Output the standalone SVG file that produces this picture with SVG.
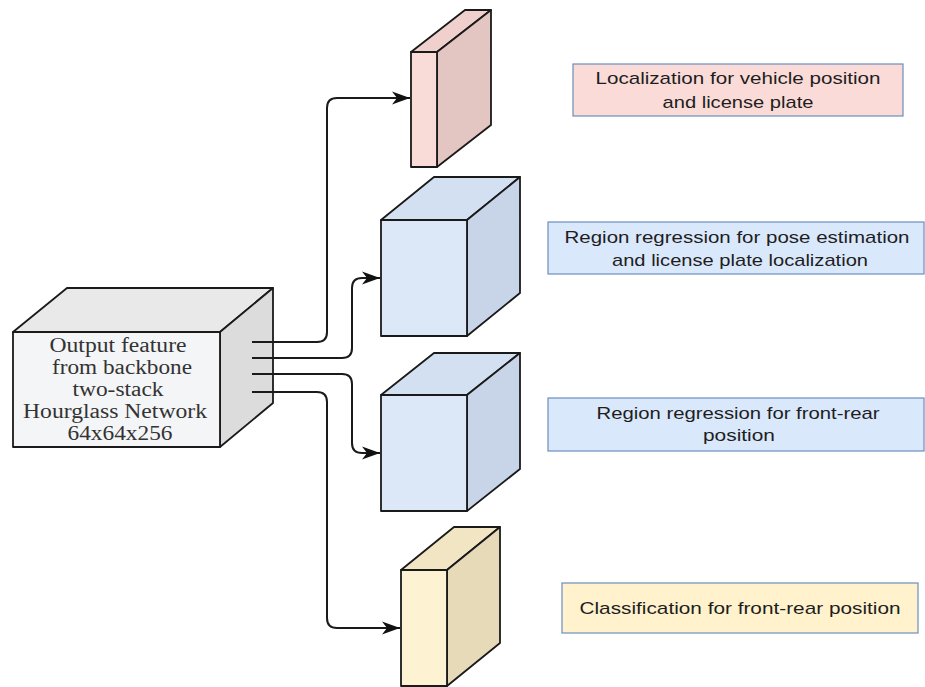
<svg xmlns="http://www.w3.org/2000/svg" width="925" height="687" viewBox="0 0 925 687">
<defs>
<style>
.edge{fill:none;stroke:#1a1a1a;stroke-width:2}
.cube path{stroke:#1a1a1a;stroke-width:1.8;stroke-linejoin:round}
.lbl rect{stroke:#6c8ebf;stroke-width:1.2}
.lbl text{font-family:"Liberation Sans",Arial,sans-serif;font-size:17px;fill:#1e1e1e;text-anchor:middle}
.bb{font-family:"Liberation Serif","Times New Roman",serif;font-size:20px;fill:#333;text-anchor:middle}
</style>
<marker id="arr" markerUnits="userSpaceOnUse" markerWidth="19" markerHeight="14" refX="18" refY="7" orient="auto">
<path d="M0,0.5 L18,7 L0,13.5 L5,7 Z" fill="#111"/>
</marker>
</defs>
<rect width="925" height="687" fill="#fff"/>

<g id="backbone" class="cube">
<path d="M13,332 L67,288 L273,288 L220,332 Z" fill="#e9e9e9"/>
<path d="M220,332 L273,288 L273,403 L220,447 Z" fill="#dcdcdc"/>
<path d="M13,332 H220 V447 H13 Z" fill="#f4f5f7"/>
<text class="bb" x="118" y="352" textLength="137" lengthAdjust="spacingAndGlyphs">Output feature</text>
<text class="bb" x="122" y="374" textLength="140" lengthAdjust="spacingAndGlyphs">from backbone</text>
<text class="bb" x="118" y="396" textLength="91" lengthAdjust="spacingAndGlyphs">two-stack</text>
<text class="bb" x="115" y="418" textLength="184" lengthAdjust="spacingAndGlyphs">Hourglass Network</text>
<text class="bb" x="120" y="440" textLength="105" lengthAdjust="spacingAndGlyphs">64x64x256</text>
</g>

<g id="head-loc" class="cube">
<path d="M411,52 L465,10 L491,10 L437,52 Z" fill="#f0d0cc"/>
<path d="M437,52 L491,10 L491,125 L437,167 Z" fill="#e3c5c1"/>
<path d="M411,52 H437 V167 H411 Z" fill="#f9dcd8"/>
</g>

<g id="head-pose" class="cube">
<path d="M381,220 L434,177 L520,177 L467,220 Z" fill="#d3e0f2"/>
<path d="M467,220 L520,177 L520,293 L467,336 Z" fill="#c8d5e8"/>
<path d="M381,220 H467 V336 H381 Z" fill="#dce8f7"/>
</g>

<g id="head-fr" class="cube">
<path d="M381,395 L434,353 L520,353 L467,395 Z" fill="#d3e0f2"/>
<path d="M467,395 L520,353 L520,469 L467,511 Z" fill="#c8d5e8"/>
<path d="M381,395 H467 V511 H381 Z" fill="#dce8f7"/>
</g>

<g id="head-cls" class="cube">
<path d="M401,570 L454,527 L500,527 L447,570 Z" fill="#f1e5c4"/>
<path d="M447,570 L500,527 L500,643 L447,686 Z" fill="#e6dab9"/>
<path d="M401,570 H447 V686 H401 Z" fill="#fdf3d3"/>
</g>

<g id="connectors">
<path class="edge" marker-end="url(#arr)" d="M252,342 H317 Q327,342 327,332 V108 Q327,98 337,98 H410"/>
<path class="edge" marker-end="url(#arr)" d="M252,358 H342 Q352,358 352,348 V288 Q352,278 362,278 H380"/>
<path class="edge" marker-end="url(#arr)" d="M252,374 H342 Q352,374 352,384 V443 Q352,453 362,453 H380"/>
<path class="edge" marker-end="url(#arr)" d="M252,392 H317 Q327,392 327,402 V618 Q327,628 337,628 H400"/>
</g>

<g id="label-loc" class="lbl">
<rect x="573" y="64" width="330" height="52" fill="#fadbd8"/>
<text x="738" y="84" textLength="285" lengthAdjust="spacingAndGlyphs">Localization for vehicle position</text>
<text x="738" y="108" textLength="151" lengthAdjust="spacingAndGlyphs">and license plate</text>
</g>

<g id="label-pose" class="lbl">
<rect x="548" y="222" width="376" height="52" fill="#dae8fc"/>
<text x="737" y="243" textLength="345" lengthAdjust="spacingAndGlyphs">Region regression for pose estimation</text>
<text x="740" y="266" textLength="256" lengthAdjust="spacingAndGlyphs">and license plate localization</text>
</g>

<g id="label-fr" class="lbl">
<rect x="548" y="398" width="376" height="53" fill="#dae8fc"/>
<text x="738" y="419" textLength="283" lengthAdjust="spacingAndGlyphs">Region regression for front-rear</text>
<text x="739" y="441" textLength="72" lengthAdjust="spacingAndGlyphs">position</text>
</g>

<g id="label-cls" class="lbl">
<rect x="562" y="583" width="356" height="50" fill="#fff2cc"/>
<text x="740" y="614" textLength="321" lengthAdjust="spacingAndGlyphs">Classification for front-rear position</text>
</g>
</svg>
